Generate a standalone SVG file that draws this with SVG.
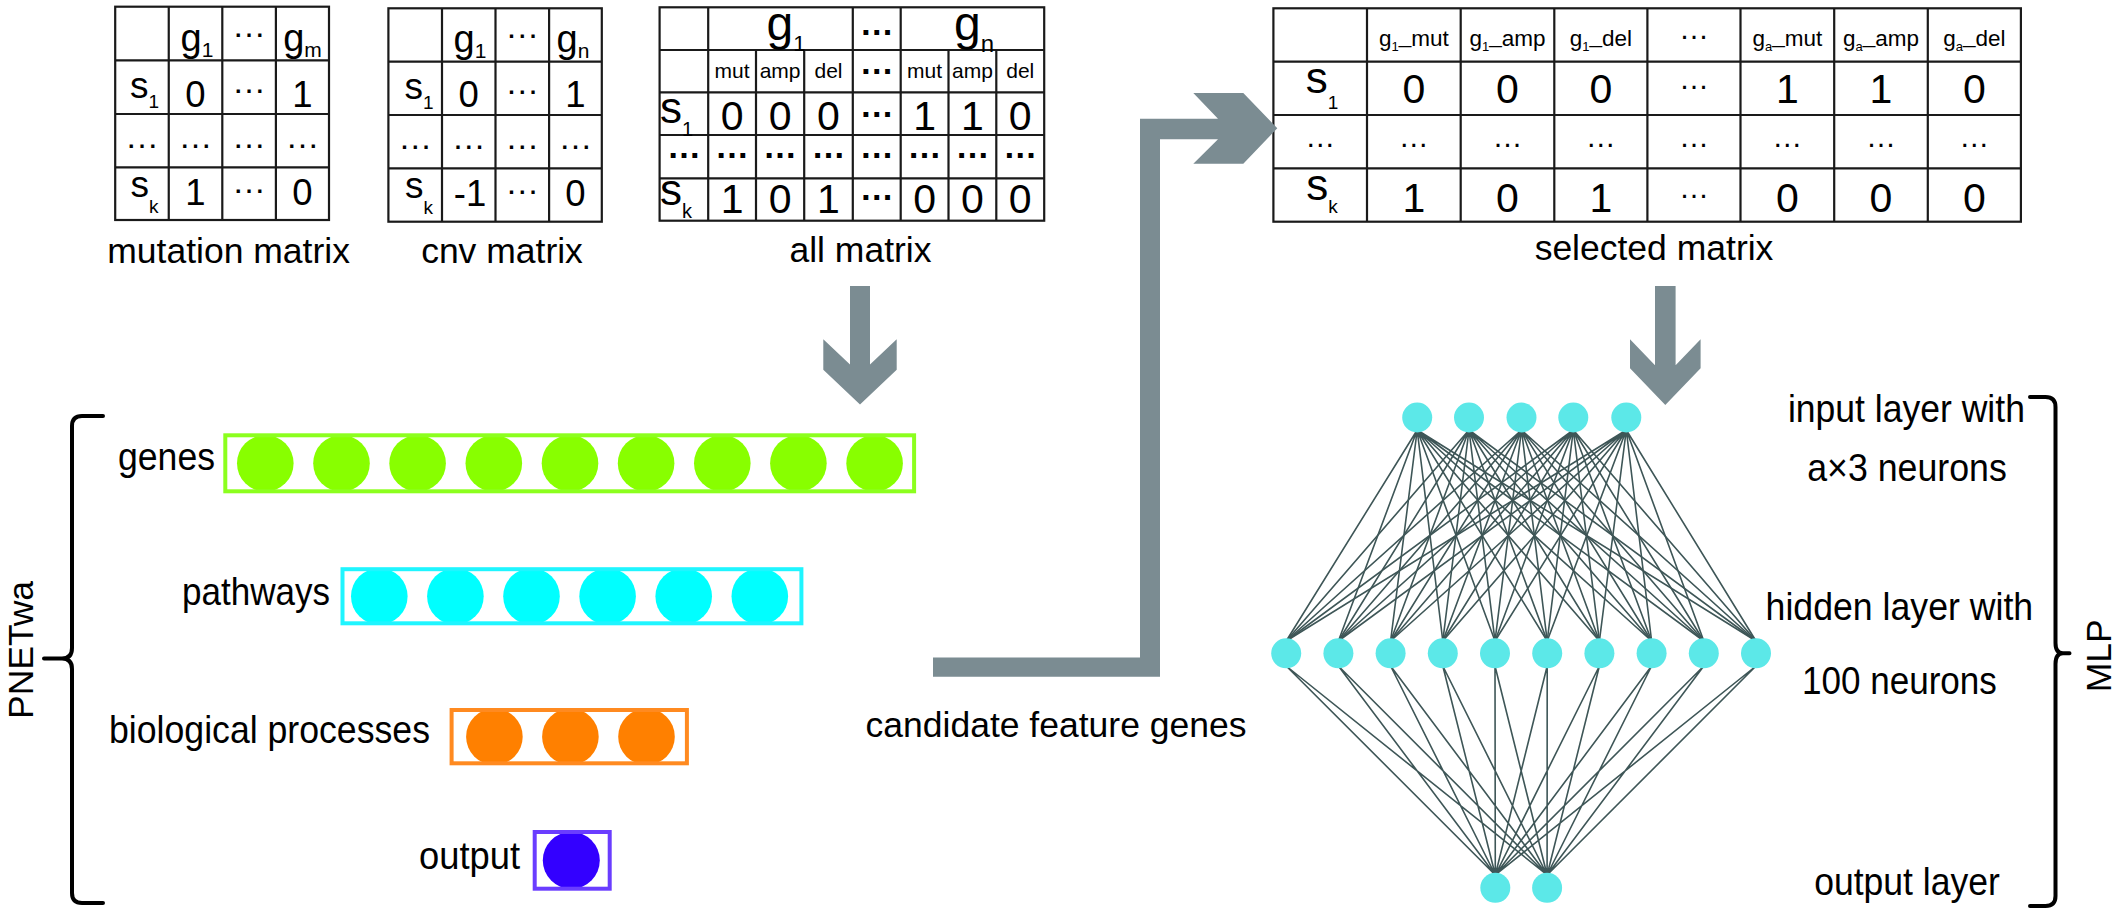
<svg xmlns="http://www.w3.org/2000/svg" width="2124" height="909" viewBox="0 0 2124 909">
<style>
text{font-family:"Liberation Sans",Arial,sans-serif;fill:#000}
.c{text-anchor:middle}
.lbl{font-size:35.5px}
.nl{font-size:38.5px}
.grid{fill:none;stroke:#1a1a1a;stroke-width:2.2}
.d1{font-size:36.5px;text-anchor:middle}
.d2{font-size:41px;text-anchor:middle}
.dt{font-size:34px;text-anchor:middle}
.dtb{font-size:34px;font-weight:bold;text-anchor:middle}
.sm{font-size:21px;text-anchor:middle}
.hd{font-size:22.5px;text-anchor:middle}
.arrow{fill:#7b8c92}
.brace{fill:none;stroke:#000;stroke-width:4;stroke-linecap:round;stroke-linejoin:round}
.edge{stroke:#3e5657;stroke-width:1.6;fill:none}
.neuron{fill:#5ce8e8}
</style>

<!-- mutation matrix -->
<g id="mutation-matrix">
<rect class="grid" x="115.2" y="6.7" width="213.8" height="213.3"/>
<path class="grid" d="M168.75 6.7V220M222.3 6.7V220M275.9 6.7V220M115.2 60.3H329M115.2 114H329M115.2 167.3H329"/>
<text class="c" font-size="38" x="197" y="51">g<tspan font-size="21" dy="5.5">1</tspan></text>
<text class="dt" x="249" y="37">…</text>
<text class="c" font-size="38" x="302.5" y="51">g<tspan font-size="21" dy="5.5">m</tspan></text>
<text class="c" font-size="37" x="144.5" y="98">s<tspan font-size="19" dy="10">1</tspan></text>
<text class="d1" x="195.5" y="107">0</text>
<text class="dt" x="249" y="93">…</text>
<text class="d1" x="302.5" y="107">1</text>
<text class="dt" x="142" y="148">…</text>
<text class="dt" x="195.5" y="148">…</text>
<text class="dt" x="249" y="148">…</text>
<text class="dt" x="302.5" y="148">…</text>
<text class="c" font-size="37" x="144.5" y="197">s<tspan font-size="19" dy="16">k</tspan></text>
<text class="d1" x="195.5" y="205">1</text>
<text class="dt" x="249" y="193">…</text>
<text class="d1" x="302.5" y="205">0</text>
<text class="lbl c" x="228.6" y="263">mutation matrix</text>
</g>

<!-- cnv matrix -->
<g id="cnv-matrix">
<rect class="grid" x="388.4" y="8.3" width="213.4" height="213.4"/>
<path class="grid" d="M442 8.3V221.7M495.5 8.3V221.7M549.1 8.3V221.7M388.4 61.7H601.8M388.4 115H601.8M388.4 168.3H601.8"/>
<text class="c" font-size="38" x="470" y="52">g<tspan font-size="21" dy="5.5">1</tspan></text>
<text class="dt" x="522.3" y="38">…</text>
<text class="c" font-size="38" x="573" y="52">g<tspan font-size="21" dy="5.5">n</tspan></text>
<text class="c" font-size="37" x="419" y="99">s<tspan font-size="19" dy="10">1</tspan></text>
<text class="d1" x="468.75" y="107">0</text>
<text class="dt" x="522.3" y="94">…</text>
<text class="d1" x="575.5" y="107">1</text>
<text class="dt" x="415.2" y="149">…</text>
<text class="dt" x="468.75" y="149">…</text>
<text class="dt" x="522.3" y="149">…</text>
<text class="dt" x="575.5" y="149">…</text>
<text class="c" font-size="37" x="419" y="198">s<tspan font-size="19" dy="16">k</tspan></text>
<text class="d1" x="470" y="206">-1</text>
<text class="dt" x="522.3" y="194">…</text>
<text class="d1" x="575.5" y="206">0</text>
<text class="lbl c" x="502" y="263">cnv matrix</text>
</g>

<!-- all matrix -->
<g id="all-matrix">
<rect class="grid" x="659.6" y="7.3" width="384.6" height="213.4"/>
<path class="grid" d="M659.6 50H1044.2M659.6 92.3H1044.2M659.6 135H1044.2M659.6 178.3H1044.2M708.2 7.3V220.7M852.8 7.3V220.7M900.7 7.3V220.7M756 50V220.7M804.2 50V220.7M948.5 50V220.7M996.3 50V220.7"/>
<text class="c" font-size="48" x="786" y="40">g<tspan font-size="22" dy="10.5">1</tspan></text>
<text class="dtb" x="876.75" y="35">…</text>
<text class="c" font-size="48" x="974" y="40">g<tspan font-size="24" dy="11.5">n</tspan></text>
<text class="sm" x="732.1" y="78.3">mut</text>
<text class="sm" x="780.1" y="78.3">amp</text>
<text class="sm" x="828.5" y="78.3">del</text>
<text class="dtb" x="876.75" y="73.5">…</text>
<text class="sm" x="924.6" y="78.3">mut</text>
<text class="sm" x="972.4" y="78.3">amp</text>
<text class="sm" x="1020.25" y="78.3">del</text>
<text font-size="44" x="660" y="123.3">s<tspan font-size="20" dy="12.5">1</tspan></text>
<text class="d2" x="732.1" y="130">0</text>
<text class="d2" x="780.1" y="130">0</text>
<text class="d2" x="828.5" y="130">0</text>
<text class="dtb" x="876.75" y="117">…</text>
<text class="d2" x="924.6" y="130">1</text>
<text class="d2" x="972.4" y="130">1</text>
<text class="d2" x="1020.25" y="130">0</text>
<text class="dtb" x="683.9" y="158">…</text>
<text class="dtb" x="732.1" y="158">…</text>
<text class="dtb" x="780.1" y="158">…</text>
<text class="dtb" x="828.5" y="158">…</text>
<text class="dtb" x="876.75" y="158">…</text>
<text class="dtb" x="924.6" y="158">…</text>
<text class="dtb" x="972.4" y="158">…</text>
<text class="dtb" x="1020.25" y="158">…</text>
<text font-size="44" x="660" y="205">s<tspan font-size="20" dy="13">k</tspan></text>
<text class="d2" x="732.1" y="213">1</text>
<text class="d2" x="780.1" y="213">0</text>
<text class="d2" x="828.5" y="213">1</text>
<text class="dtb" x="876.75" y="200">…</text>
<text class="d2" x="924.6" y="213">0</text>
<text class="d2" x="972.4" y="213">0</text>
<text class="d2" x="1020.25" y="213">0</text>
<text class="lbl c" x="860.5" y="261.7">all matrix</text>
</g>

<!-- selected matrix -->
<g id="selected-matrix">
<rect class="grid" x="1273.4" y="8.3" width="747.5" height="213.4"/>
<path class="grid" d="M1273.4 61.7H2020.9M1273.4 115H2020.9M1273.4 168.3H2020.9M1367 8.3V221.7M1460.7 8.3V221.7M1554.3 8.3V221.7M1647.4 8.3V221.7M1740.5 8.3V221.7M1834.2 8.3V221.7M1927.8 8.3V221.7"/>
<text class="hd" x="1413.85" y="46">g<tspan font-size="13" dy="4.7">1</tspan><tspan dy="-7.7">_</tspan><tspan dy="3">mut</tspan></text>
<text class="hd" x="1507.5" y="46">g<tspan font-size="13" dy="4.7">1</tspan><tspan dy="-7.7">_</tspan><tspan dy="3">amp</tspan></text>
<text class="hd" x="1600.85" y="46">g<tspan font-size="13" dy="4.7">1</tspan><tspan dy="-7.7">_</tspan><tspan dy="3">del</tspan></text>
<text class="c" font-size="30" x="1693.95" y="38.5">…</text>
<text class="hd" x="1787.35" y="46">g<tspan font-size="13" dy="4.7">a</tspan><tspan dy="-7.7">_</tspan><tspan dy="3">mut</tspan></text>
<text class="hd" x="1881" y="46">g<tspan font-size="13" dy="4.7">a</tspan><tspan dy="-7.7">_</tspan><tspan dy="3">amp</tspan></text>
<text class="hd" x="1974.35" y="46">g<tspan font-size="13" dy="4.7">a</tspan><tspan dy="-7.7">_</tspan><tspan dy="3">del</tspan></text>
<text class="c" font-size="44" x="1322" y="93">s<tspan font-size="19" dy="16">1</tspan></text>
<text class="d2" x="1413.85" y="103.3">0</text>
<text class="d2" x="1507.5" y="103.3">0</text>
<text class="d2" x="1600.85" y="103.3">0</text>
<text class="c" font-size="30" x="1693.95" y="88.5">…</text>
<text class="d2" x="1787.35" y="103.3">1</text>
<text class="d2" x="1881" y="103.3">1</text>
<text class="d2" x="1974.35" y="103.3">0</text>
<text class="c" font-size="30" x="1320.2" y="147">…</text>
<text class="c" font-size="30" x="1413.85" y="147">…</text>
<text class="c" font-size="30" x="1507.5" y="147">…</text>
<text class="c" font-size="30" x="1600.85" y="147">…</text>
<text class="c" font-size="30" x="1693.95" y="147">…</text>
<text class="c" font-size="30" x="1787.35" y="147">…</text>
<text class="c" font-size="30" x="1881" y="147">…</text>
<text class="c" font-size="30" x="1974.35" y="147">…</text>
<text class="c" font-size="44" x="1322" y="200">s<tspan font-size="19" dy="13">k</tspan></text>
<text class="d2" x="1413.85" y="211.7">1</text>
<text class="d2" x="1507.5" y="211.7">0</text>
<text class="d2" x="1600.85" y="211.7">1</text>
<text class="c" font-size="30" x="1693.95" y="198">…</text>
<text class="d2" x="1787.35" y="211.7">0</text>
<text class="d2" x="1881" y="211.7">0</text>
<text class="d2" x="1974.35" y="211.7">0</text>
<text class="lbl c" x="1654" y="260">selected matrix</text>
</g>

<!-- flow arrows and network edges -->
<g id="connectors">
<path class="arrow" d="M850 286H870V364.4L896.7 339.2V369.8L860 404.5L823.3 369.8V339.2L850 364.4Z"/>
<path class="arrow" d="M933 676.7V657.6H1140V118.8H1218L1193.3 93H1243.3L1277.3 128.2L1243.3 163.7H1193.3L1218 139.2H1160V676.7Z"/>
<path class="arrow" d="M1655 286H1675.6V365.3L1700.6 339.3V368.3L1665.3 405L1630 368.3V339.3L1655 365.3Z"/>
<g id="mlp-edges" class="edge">
<path d="M1417.2 430L1286.2 641M1417.2 430L1338.4 641M1417.2 430L1390.6 641M1417.2 430L1442.8 641M1417.2 430L1495 641M1417.2 430L1547.2 641M1417.2 430L1599.4 641M1417.2 430L1651.6 641M1417.2 430L1703.8 641M1417.2 430L1756 641"/>
<path d="M1469 430L1286.2 641M1469 430L1338.4 641M1469 430L1390.6 641M1469 430L1442.8 641M1469 430L1495 641M1469 430L1547.2 641M1469 430L1599.4 641M1469 430L1651.6 641M1469 430L1703.8 641M1469 430L1756 641"/>
<path d="M1521.5 430L1286.2 641M1521.5 430L1338.4 641M1521.5 430L1390.6 641M1521.5 430L1442.8 641M1521.5 430L1495 641M1521.5 430L1547.2 641M1521.5 430L1599.4 641M1521.5 430L1651.6 641M1521.5 430L1703.8 641M1521.5 430L1756 641"/>
<path d="M1573.3 430L1286.2 641M1573.3 430L1338.4 641M1573.3 430L1390.6 641M1573.3 430L1442.8 641M1573.3 430L1495 641M1573.3 430L1547.2 641M1573.3 430L1599.4 641M1573.3 430L1651.6 641M1573.3 430L1703.8 641M1573.3 430L1756 641"/>
<path d="M1626.3 430L1286.2 641M1626.3 430L1338.4 641M1626.3 430L1390.6 641M1626.3 430L1442.8 641M1626.3 430L1495 641M1626.3 430L1547.2 641M1626.3 430L1599.4 641M1626.3 430L1651.6 641M1626.3 430L1703.8 641M1626.3 430L1756 641"/>
<path d="M1286.2 666L1495.3 875M1286.2 666L1547.1 875M1338.4 666L1495.3 875M1338.4 666L1547.1 875M1390.6 666L1495.3 875M1390.6 666L1547.1 875M1442.8 666L1495.3 875M1442.8 666L1547.1 875M1495 666L1495.3 875M1495 666L1547.1 875M1547.2 666L1495.3 875M1547.2 666L1547.1 875M1599.4 666L1495.3 875M1599.4 666L1547.1 875M1651.6 666L1495.3 875M1651.6 666L1547.1 875M1703.8 666L1495.3 875M1703.8 666L1547.1 875M1756 666L1495.3 875M1756 666L1547.1 875"/>
</g>
</g>

<text class="lbl c" x="1056" y="736.7">candidate feature genes</text>

<!-- PNETwa layers -->
<g id="genes-layer">
<g fill="#88ff00">
<circle cx="265.3" cy="463.3" r="28.3"/><circle cx="341.5" cy="463.3" r="28.3"/><circle cx="417.6" cy="463.3" r="28.3"/>
<circle cx="493.8" cy="463.3" r="28.3"/><circle cx="570" cy="463.3" r="28.3"/><circle cx="646.1" cy="463.3" r="28.3"/>
<circle cx="722.3" cy="463.3" r="28.3"/><circle cx="798.4" cy="463.3" r="28.3"/><circle cx="874.6" cy="463.3" r="28.3"/>
</g>
<rect x="225.3" y="435.3" width="688.8" height="56" fill="none" stroke="#8cff1e" stroke-width="4"/>
<text class="nl" x="118" y="470" textLength="97" lengthAdjust="spacingAndGlyphs">genes</text>
</g>

<g id="pathways-layer">
<g fill="#00ffff">
<circle cx="379.3" cy="596.3" r="28.3"/><circle cx="455.4" cy="596.3" r="28.3"/><circle cx="531.5" cy="596.3" r="28.3"/>
<circle cx="607.6" cy="596.3" r="28.3"/><circle cx="683.7" cy="596.3" r="28.3"/><circle cx="759.8" cy="596.3" r="28.3"/>
</g>
<rect x="342.5" y="569.2" width="458.9" height="54.1" fill="none" stroke="#1ff5ff" stroke-width="4"/>
<text class="nl" x="182" y="605" textLength="148" lengthAdjust="spacingAndGlyphs">pathways</text>
</g>

<g id="bio-layer">
<g fill="#ff8000">
<circle cx="494.4" cy="736.7" r="28.3"/><circle cx="570.4" cy="736.7" r="28.3"/><circle cx="646.5" cy="736.7" r="28.3"/>
</g>
<rect x="451.6" y="710" width="235.3" height="53.3" fill="none" stroke="#ff8a20" stroke-width="4"/>
<text class="nl" x="109" y="742.7" textLength="321" lengthAdjust="spacingAndGlyphs">biological processes</text>
</g>

<g id="output-layer">
<circle cx="571.3" cy="860.3" r="28.5" fill="#3300ff"/>
<rect x="534.7" y="832" width="75" height="56.7" fill="none" stroke="#6a3dff" stroke-width="4"/>
<text class="nl" x="419" y="869" textLength="101" lengthAdjust="spacingAndGlyphs">output</text>
</g>

<g id="pnetwa-bracket">
<path class="brace" d="M103 416H82Q72 416 72 426V648Q72 658.5 62 658.5H44M62 658.5Q72 658.5 72 669V893Q72 903 82 903H103"/>
<text class="lbl c" transform="translate(33 650) rotate(-90)">PNETwa</text>
</g>

<!-- MLP -->
<g id="mlp-input">
<circle class="neuron" cx="1417.2" cy="417.5" r="15"/><circle class="neuron" cx="1469" cy="417.5" r="15"/><circle class="neuron" cx="1521.5" cy="417.5" r="15"/>
<circle class="neuron" cx="1573.3" cy="417.5" r="15"/><circle class="neuron" cx="1626.3" cy="417.5" r="15"/>
</g>
<g id="mlp-hidden">
<circle class="neuron" cx="1286.2" cy="653.3" r="15"/><circle class="neuron" cx="1338.4" cy="653.3" r="15"/><circle class="neuron" cx="1390.6" cy="653.3" r="15"/>
<circle class="neuron" cx="1442.8" cy="653.3" r="15"/><circle class="neuron" cx="1495" cy="653.3" r="15"/><circle class="neuron" cx="1547.2" cy="653.3" r="15"/>
<circle class="neuron" cx="1599.4" cy="653.3" r="15"/><circle class="neuron" cx="1651.6" cy="653.3" r="15"/><circle class="neuron" cx="1703.8" cy="653.3" r="15"/>
<circle class="neuron" cx="1756" cy="653.3" r="15"/>
</g>
<g id="mlp-output">
<circle class="neuron" cx="1495.3" cy="887.8" r="15"/><circle class="neuron" cx="1547.1" cy="887.8" r="15"/>
</g>

<g id="mlp-labels">
<text class="nl c" x="1906.4" y="422.2" textLength="237" lengthAdjust="spacingAndGlyphs">input layer with</text>
<text class="nl c" x="1907" y="481.2" textLength="199.6" lengthAdjust="spacingAndGlyphs">a×3 neurons</text>
<text class="nl c" x="1899.4" y="620.2" textLength="267.6" lengthAdjust="spacingAndGlyphs">hidden layer with</text>
<text class="nl c" x="1899.4" y="693.8" textLength="195" lengthAdjust="spacingAndGlyphs">100 neurons</text>
<text class="nl c" x="1907" y="894.5" textLength="185.6" lengthAdjust="spacingAndGlyphs">output layer</text>
</g>

<g id="mlp-bracket">
<path class="brace" d="M2030 397H2045.5Q2055.5 397 2055.5 407V643Q2055.5 653.3 2063 653.3H2069.5M2063 653.3Q2055.5 653.3 2055.5 664V896Q2055.5 906 2045.5 906H2030"/>
<text class="lbl c" transform="translate(2111 655.7) rotate(-90)">MLP</text>
</g>
</svg>
